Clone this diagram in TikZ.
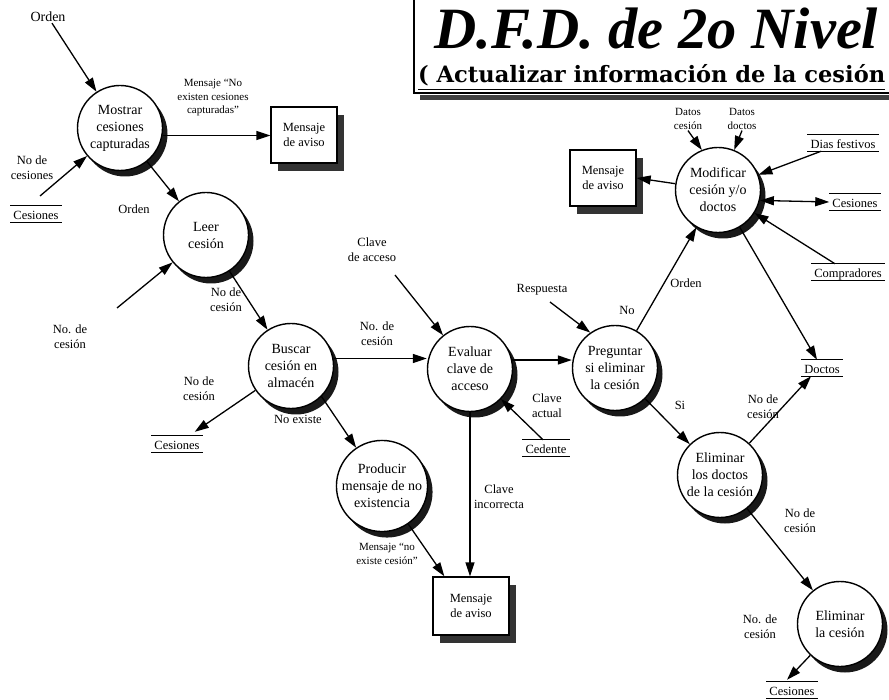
\documentclass[tikz,border=0pt]{standalone}
\usepackage{fontspec}
\setmainfont{Liberation Serif}
\newfontfamily\subtitlefont{DejaVu Serif}
\usetikzlibrary{arrows.meta,shadows,calc}

\begin{document}
\begin{tikzpicture}[x=1pt,y=-1pt,
  proc/.style={circle, draw, line width=1.4pt, fill=white, minimum size=85pt, inner sep=0pt, align=center,
    font=\fontsize{14}{17}\selectfont,
    drop shadow={shadow xshift=5pt, shadow yshift=-6pt, fill=black, opacity=0.9}},
  msgbox/.style={draw, line width=1.3pt, fill=white, minimum width=66pt, minimum height=56pt, align=center,
    font=\fontsize{12.5}{15}\selectfont,
    drop shadow={shadow xshift=7pt, shadow yshift=-8pt, fill=black!80, opacity=1}},
  lbl/.style={align=center, font=\fontsize{12.5}{15}\selectfont, inner sep=1pt},
  small/.style={align=center, font=\fontsize{11}{13.5}\selectfont, inner sep=1pt},
  store/.style={font=\fontsize{12.5}{15}\selectfont, inner xsep=3pt, inner ysep=1.5pt, text height=12pt, text depth=1pt},
  flow/.style={line width=1.3pt, -{Triangle[length=14pt,width=9pt]}},
  both/.style={line width=1.3pt, {Triangle[length=14pt,width=9pt]}-{Triangle[length=14pt,width=9pt]}},
  storeline/.style={line width=1.1pt}
]
\useasboundingbox (0,0) rectangle (889,700);

% title block
\draw[line width=1.3pt] (414,0) -- (414,93) -- (889,93);
\fill[black!75] (420,95) rectangle (889,100);
\node[anchor=base west, inner sep=0] (title) at (434,49) {\resizebox{444pt}{!}{\fontsize{56}{60}\selectfont\bfseries\itshape D.F.D. de 2o Nivel}};
\node[anchor=base west, inner sep=0] (subtitle) at (418,83) {\resizebox{467pt}{!}{\subtitlefont\bfseries\underline{( Actualizar información de la cesión}}};

% processes
\node[proc] (mostrar) at (120,128) {Mostrar\\cesiones\\capturadas};
\node[proc] (leer) at (206,235) {Leer\\cesión};
\node[proc] (buscar) at (291,366) {Buscar\\cesión en\\almacén};
\node[proc] (producir) at (382,486) {Producir\\mensaje de no\\existencia};
\node[proc] (evaluar) at (470,369) {Evaluar\\clave de\\acceso};
\node[proc] (preguntar) at (615,368) {Preguntar\\si eliminar\\la cesión};
\node[proc] (modif) at (718,190) {Modificar\\cesión y/o\\doctos};
\node[proc] (elimd) at (720,475) {Eliminar\\los doctos\\de la cesión};
\node[proc] (elimc) at (840,624) {Eliminar\\la cesión};

% message boxes
\node[msgbox] (aviso1) at (304,135) {Mensaje\\de aviso};
\node[msgbox] (aviso2) at (603,178) {Mensaje\\de aviso};
\node[msgbox, minimum width=76pt, minimum height=58pt] (aviso3) at (471,606) {Mensaje\\de aviso};

% data stores
\node[store] (cesA) at (36,214) {Cesiones};
\node[store] (cesB) at (177,444) {Cesiones};
\node[store] (cedente) at (546,448) {Cedente};
\node[store] (dias) at (843,143) {Dias festivos};
\node[store] (cesC) at (855,202) {Cesiones};
\node[store] (compr) at (848,272) {Compradores};
\node[store] (doctos) at (822,368) {Doctos};
\node[store] (cesD) at (792,690) {Cesiones};
\foreach \s in {cesA,cesB,cedente,dias,cesC,compr,doctos,cesD}
  \draw[storeline] (\s.north west) -- (\s.north east) (\s.south west) -- (\s.south east);

% flow labels
\node[lbl, font=\fontsize{14}{16}\selectfont] (orden1) at (48,17) {Orden};
\node[small] (msgNo) at (213,98) {Mensaje “No\\existen cesiones\\capturadas”};
\node[lbl] (nocesiones) at (32,168) {No de\\cesiones};
\node[lbl] (orden2) at (134,209) {Orden};
\node[lbl] (nocesB) at (70,337) {No. de\\cesión};
\node[lbl] (nocesC) at (226,300) {No de\\cesión};
\node[lbl] (nocesD) at (199,389) {No de\\cesión};
\node[lbl] (noexiste) at (298,419) {No existe};
\node[lbl] (nocesE) at (377,334) {No. de\\cesión};
\node[lbl] (clave1) at (372,250) {Clave\\de acceso};
\node[lbl] (resp) at (542,290) {Respuesta};
\node[lbl] (claveact) at (547,406) {Clave\\actual};
\node[lbl] (claveinc) at (499,497) {Clave\\incorrecta};
\node[small] (msgNo2) at (387,554) {Mensaje “no\\existe cesión”};
\node[lbl] (no) at (627,310) {No};
\node[lbl] (orden3) at (686,283) {Orden};
\node[lbl] (si) at (680,405) {Si};
\node[lbl] (nocesF) at (763,407) {No de\\cesión};
\node[lbl] (nocesG) at (800,521) {No de\\cesión};
\node[lbl] (nocesH) at (760,627) {No. de\\cesión};
\node[small] (datosc) at (688,119) {Datos\\cesión};
\node[small] (datosd) at (742,119) {Datos\\doctos};

% free ends of incoming flows
\coordinate (inA) at (40,196);
\coordinate (inB) at (117,308);
\coordinate (inC) at (395,275);
\coordinate (inD) at (550,302);

% flows
\draw[flow] (orden1) -- (mostrar);
\draw[flow] (inA) -- (mostrar);
\draw[flow] (mostrar.-10) -- (aviso1.west |- mostrar.-10);
\draw[flow] (mostrar) -- (leer);
\draw[flow] (inB) -- (leer);
\draw[flow] (leer) -- (buscar);
\draw[flow] (buscar) -- ($(cesB.north east)+(-8,-4)$);
\draw[flow] (buscar.-45) -- (producir);
\draw[flow] (buscar.10) -- (buscar.10 -| evaluar.west);
\draw[flow] (inC) -- (evaluar);
\draw[flow] (evaluar.12) -- (evaluar.12 -| preguntar.west);
\draw[flow] ($(cedente.north)+(-3,0)$) -- (evaluar);
\draw[flow] (evaluar.south) -- (evaluar.south |- aviso3.north);
\draw[flow] (producir) -- ($(aviso3.north west)+(12,0)$);
\draw[flow] (inD) -- (preguntar.125);
\draw[flow] (preguntar) -- (modif);
\draw[flow] (preguntar) -- (elimd);
\draw[flow] (elimd) -- ($(doctos.south west)+(10,0)$);
\draw[flow] (modif) -- ($(doctos.north)+(-5,0)$);
\draw[flow] (elimd) -- (elimc);
\draw[flow] (elimc) -- ($(cesD.north)+(-5,-2)$);
\draw[flow] (modif) -- (aviso2.east);
\draw[flow] (datosc.south) -- (modif.112);
\draw[flow] (datosd.south) -- (modif.68);
\draw[flow] (dias) -- (modif);
\draw[both] (modif.-14) -- (cesC.west);
\draw[flow] (compr) -- (modif);
\end{tikzpicture}
\end{document}
